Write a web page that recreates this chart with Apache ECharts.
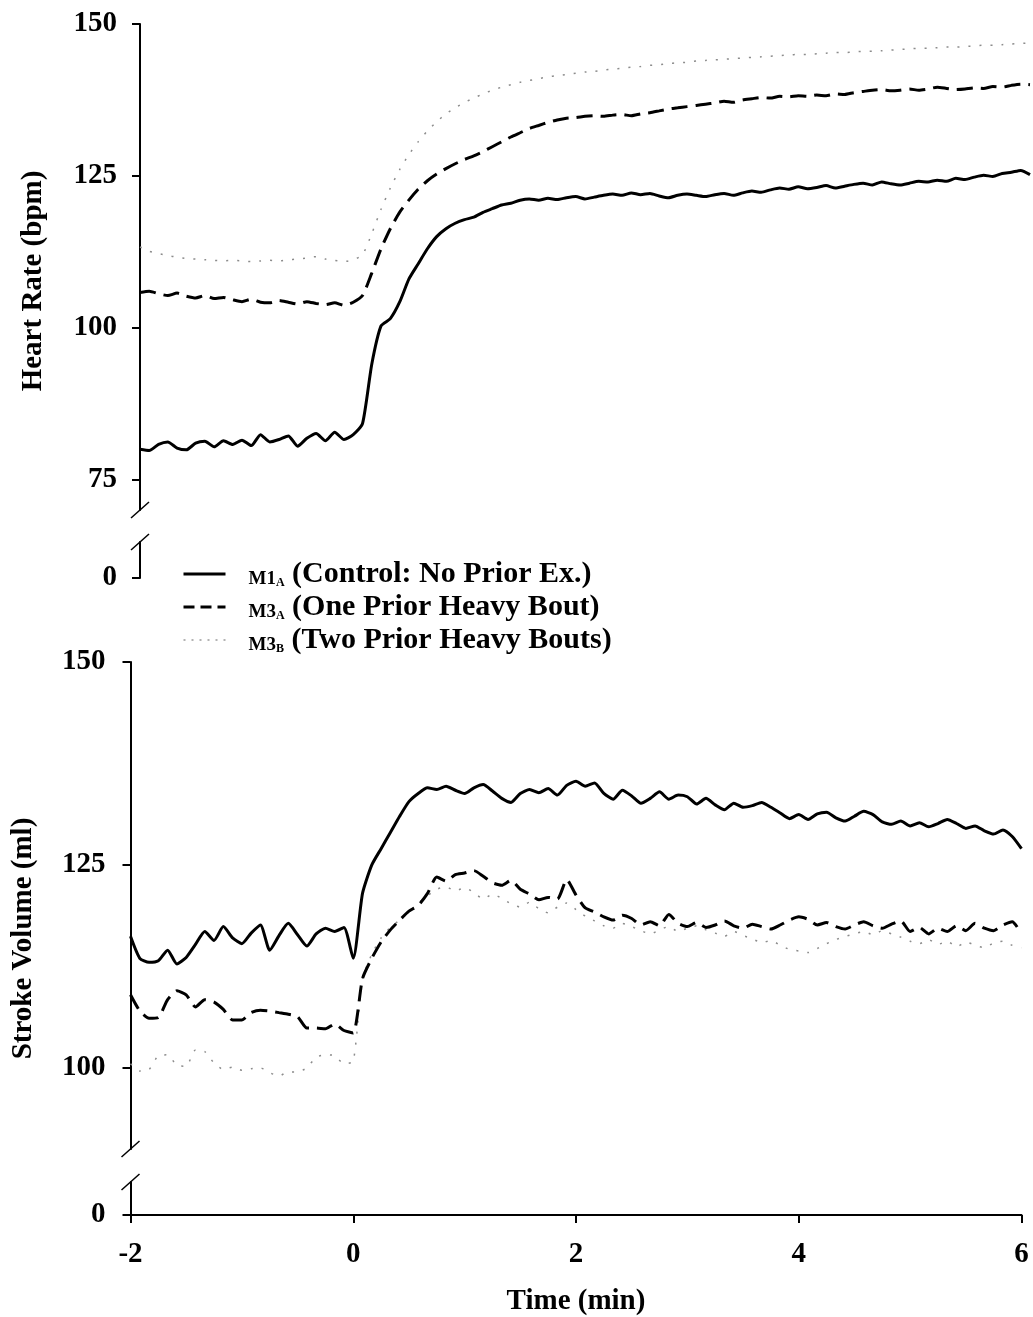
<!DOCTYPE html>
<html>
<head>
<meta charset="utf-8">
<script src="https://cdn.jsdelivr.net/npm/echarts@6/dist/echarts.min.js"></script>
<style>
  html, body { margin: 0; padding: 0; background: #ffffff; }
  #chart { width: 1033px; height: 1317px; }
</style>
</head>
<body>
<div id="chart"></div>
<script>
// Time relative to exercise onset (s), sampled every 5 s
const timeSec = [
  -120, -115, -110, -105, -100, -95, -90, -85, -80, -75, -70, -65, -60, -55, -50, -45, -40, -35, -30, -25, -20, -15, -10, -5, 0,
  5, 10, 15, 20, 25, 30, 35, 40, 45, 50, 55, 60,
  65, 70, 75, 80, 85, 90, 95, 100, 105, 110, 115, 120,
  125, 130, 135, 140, 145, 150, 155, 160, 165, 170, 175, 180,
  185, 190, 195, 200, 205, 210, 215, 220, 225, 230, 235, 240,
  245, 250, 255, 260, 265, 270, 275, 280, 285, 290, 295, 300,
  305, 310, 315, 320, 325, 330, 335, 340, 345, 350, 355, 360
];

// Heart rate (bpm)
const hrControl = [
  80, 79.8, 80.8, 81.2, 80.2, 79.9, 81, 81.3, 80.4, 81.4, 80.8, 81.5, 80.6, 82.4, 81.2, 81.6, 82.2, 80.5, 81.8, 82.6, 81.4, 82.8, 81.6, 82.4, 84.2,
  94, 100.3, 101.5, 104.2, 108, 110.5, 113, 115, 116.3, 117.2, 117.8, 118.2,
  119, 119.6, 120.2, 120.5, 121, 121.2, 121, 121.3, 121.1, 121.4, 121.6, 121.2,
  121.5, 121.8, 122, 121.8, 122.2, 121.9, 122.1, 121.7, 121.4, 121.8, 122, 121.8,
  121.6, 121.9, 122.1, 121.8, 122.2, 122.5, 122.3, 122.7, 123, 122.8, 123.2, 122.9,
  123.1, 123.4, 123, 123.3, 123.6, 123.8, 123.5, 124, 123.7, 123.5, 123.8, 124.1,
  124, 124.3, 124.1, 124.6, 124.4, 124.8, 125.1, 124.9, 125.4, 125.6, 125.9, 125.2
];
const hrOneBout = [
  105.8, 106, 105.6, 105.3, 105.7, 105.2, 104.9, 105.3, 104.8, 105, 104.6, 104.3, 104.7, 104.2, 104.1, 104.5, 104.2, 103.9, 104.3, 104, 103.8, 104.1, 103.7, 104.2, 105.3,
  109, 113, 116.3, 119, 121, 122.8, 124.2, 125.3, 126.2, 127, 127.7, 128.3,
  129, 129.8, 130.6, 131.4, 132.1, 132.8, 133.3, 133.8, 134.2, 134.5, 134.6, 134.8,
  134.9, 134.8, 135, 135.1, 134.9, 135.2, 135.4, 135.7, 136, 136.2, 136.4, 136.6,
  136.8, 137, 137.3, 137.1, 137.5, 137.7, 137.9, 137.8, 138.1, 138, 138.2, 138.1,
  138.3, 138.2, 138.5, 138.4, 138.7, 138.9, 139.1, 139.2, 139, 139.1, 139.3, 139.1,
  139.3, 139.6, 139.4, 139.2, 139.3, 139.5, 139.4, 139.7, 139.6, 139.9, 140.1, 140
];
const hrTwoBouts = [
  113.3, 112.6, 112.2, 111.9, 111.6, 111.4, 111.3, 111.2, 111.1, 111, 111.1, 111, 110.9, 111, 111.1, 111, 111.2, 111.3, 111.5, 111.7, 111.3, 111.1, 110.9, 111.2, 112,
  115.5, 119.5, 123, 126, 128.5, 130.6, 132.4, 133.9, 135.2, 136.2, 137.1, 137.8,
  138.5, 139.1, 139.6, 140, 140.4, 140.7, 141, 141.3, 141.5, 141.7, 141.9, 142.1,
  142.2, 142.4, 142.6, 142.7, 142.9, 143, 143.2, 143.3, 143.5, 143.6, 143.7, 143.9,
  144, 144.1, 144.2, 144.3, 144.4, 144.5, 144.6, 144.7, 144.8, 144.9, 145, 145,
  145.1, 145.2, 145.3, 145.3, 145.4, 145.5, 145.5, 145.6, 145.7, 145.8, 145.9, 146,
  146, 146.1, 146.2, 146.2, 146.3, 146.4, 146.5, 146.5, 146.6, 146.7, 146.8, 146.9
];

// Stroke volume (ml)
const svControl = [
  116.2, 113.5, 113, 113.2, 114.5, 112.8, 113.6, 115.2, 116.8, 115.7, 117.4, 116, 115.3, 116.6, 117.6, 114.5, 116.3, 117.8, 116.4, 115, 116.5, 117.2, 116.8, 117.3, 113.5,
  121.5, 125, 127, 129, 131, 132.8, 133.8, 134.5, 134.3, 134.7, 134.2, 133.8,
  134.5, 134.9, 134.1, 133.2, 132.7, 133.8, 134.3, 133.9, 134.4, 133.6, 134.8, 135.3,
  134.7, 135.1, 133.8, 133.1, 134.2, 133.5, 132.6, 133.2, 134, 133.1, 133.6, 133.4,
  132.5, 133.2, 132.4, 131.8, 132.6, 132.1, 132.3, 132.7, 132.1, 131.4, 130.7, 131.2,
  130.6, 131.3, 131.5, 130.8, 130.4, 131, 131.6, 131.2, 130.3, 130, 130.4, 129.8,
  130.2, 129.7, 130.1, 130.6, 130.1, 129.5, 129.8, 129.2, 128.8, 129.3, 128.5, 127
];
const svOneBout = [
  109, 107, 106.1, 106.2, 108.4, 109.5, 109, 107.5, 108.4, 108.1, 107.2, 105.9, 105.9, 106.8, 107.1, 107, 106.8, 106.6, 106.3, 104.9, 104.9, 104.8, 105.4, 104.6, 104.3,
  111, 113.5, 115.5, 117, 118.2, 119.3, 120, 121.5, 123.5, 123, 123.8, 124,
  124.3, 123.6, 122.8, 122.5, 123.1, 122, 121.4, 120.7, 121, 120.8, 123.2, 121.3,
  119.7, 119.2, 118.6, 118.2, 118.8, 118.4, 117.6, 118, 117.5, 118.9, 117.8, 117.4,
  117.9, 117.3, 117.6, 118.1, 117.5, 117.2, 117.7, 117.4, 117.1, 117.6, 118.2, 118.6,
  118.3, 117.6, 117.9, 117.4, 117.1, 117.6, 118, 117.5, 117.2, 117.7, 118.1, 116.8,
  117.3, 116.5, 117.2, 116.8, 117.5, 116.9, 117.8, 117.2, 116.9, 117.6, 118, 116.5
];
const svTwoBouts = [
  100.5, 99.6, 99.8, 101.5, 101.6, 100.3, 100.2, 102.2, 102, 100.6, 99.8, 100.1, 99.7, 99.9, 100, 99.4, 99, 99.5, 99.5, 100, 101.3, 101.6, 101.5, 100.5, 100.8,
  111, 114, 116, 117.3, 118.2, 119.2, 120.3, 121.2, 122, 122.3, 121.8, 122.2,
  121.6, 120.8, 121.4, 120.9, 120.2, 119.8, 120.4, 119.6, 119.1, 119.8, 120.3, 119.5,
  118.7, 118.1, 117.5, 117.2, 117.8, 117.4, 116.9, 116.5, 117, 117.4, 116.8, 117.2,
  117.5, 117, 116.6, 116.2, 116.8, 116.3, 115.9, 115.4, 115.7, 115.1, 114.6, 114.4,
  114.2, 114.7, 115.3, 115.8, 116.2, 116.5, 116.8, 116.4, 116.9, 116.5, 116.1, 115.6,
  115.3, 115.8, 115.2, 115.6, 114.9, 115.5, 115.1, 114.8, 115.4, 115.6, 115.1, 114.8
];

// Axis ticks
const hrTicks = [75, 100, 125, 150];
const svTicks = [100, 125, 150];
const zeroTick = [0];

// Legend entries: name, subscript, description
const groupNames = ['M1A', 'M3A', 'M3B'];
const groupLabels = {
  M1A: ['M1', 'A', '(Control: No Prior Ex.)'],
  M3A: ['M3', 'A', '(One Prior Heavy Bout)'],
  M3B: ['M3', 'B', '(Two Prior Heavy Bouts)']
};

const FONT = 'Liberation Serif, Times New Roman, serif';
const labelStyle = { color: '#000', fontFamily: FONT, fontWeight: 'bold', fontSize: 29 };

const lineStyles = {
  M1A: { color: '#000', width: 3, type: 'solid' },
  M3A: { color: '#000', width: 3, type: [16, 8] },
  M3B: { color: '#8c8c8c', width: 1.5, type: [2, 9] }
};
const legendLineStyles = {
  M1A: { color: '#000', width: 3, type: 'solid' },
  M3A: { color: '#000', width: 3, type: [11, 6] },
  M3B: { color: '#9a9a9a', width: 1.5, type: [2, 6] }
};

function pairs(values) {
  return timeSec.map((s, i) => [s / 60, values[i]]);
}

const chart = echarts.init(document.getElementById('chart'), null, { renderer: 'canvas' });

function valueY(gridIndex, min, max, ticks, labelMargin) {
  return {
    type: 'value', gridIndex, min, max,
    axisLine: { show: true, onZero: false, lineStyle: { color: '#000', width: 2 } },
    axisTick: { show: true, inside: false, length: 8, customValues: ticks, lineStyle: { color: '#000', width: 2 } },
    axisLabel: Object.assign({ show: true, margin: labelMargin, customValues: ticks }, labelStyle),
    splitLine: { show: false }
  };
}

function hiddenX(gridIndex) {
  return { type: 'value', gridIndex, min: -2, max: 6, show: false };
}

const series = [];
const panels = [
  { axis: 0, values: [hrControl, hrOneBout, hrTwoBouts] },
  { axis: 2, values: [svControl, svOneBout, svTwoBouts] }
];
panels.forEach(p => {
  groupNames.forEach((name, k) => {
    series.push({
      type: 'line', name,
      xAxisIndex: p.axis, yAxisIndex: p.axis,
      data: pairs(p.values[k]),
      symbol: 'none', showSymbol: false,
      smooth: 0.2,
      lineStyle: lineStyles[name],
      itemStyle: { color: lineStyles[name].color },
      emphasis: { disabled: true },
      z: 3 - k
    });
  });
});

chart.setOption({
  animation: false,
  backgroundColor: '#ffffff',
  grid: [
    { left: 140, top: 24, width: 890, height: 486 },
    { left: 140, top: 542, width: 890, height: 36 },
    { left: 130.5, top: 662, width: 891, height: 487 },
    { left: 130.5, top: 1182, width: 891, height: 35.5 }
  ],
  xAxis: [
    hiddenX(0), hiddenX(1), hiddenX(2),
    {
      type: 'value', gridIndex: 3, min: -2, max: 6, interval: 2,
      axisLine: { show: true, onZero: false, lineStyle: { color: '#000', width: 2 } },
      axisTick: { show: true, inside: false, length: 8, lineStyle: { color: '#000', width: 2 } },
      axisLabel: Object.assign({ margin: 25 }, labelStyle),
      splitLine: { show: false },
      name: 'Time (min)', nameLocation: 'middle', nameGap: 72,
      nameTextStyle: labelStyle
    }
  ],
  yAxis: [
    valueY(0, 70, 150, hrTicks, 23),
    valueY(1, 0, 1, zeroTick, 23),
    valueY(2, 90, 150, svTicks, 25),
    valueY(3, 0, 1, zeroTick, 25)
  ],
  legend: {
    orient: 'vertical', left: 182, top: 559, padding: 0,
    itemWidth: 42, itemHeight: 14, itemGap: 3,
    data: groupNames.map(name => ({ name, lineStyle: legendLineStyles[name] })),
    selectedMode: false,
    itemStyle: { opacity: 0 },
    formatter: name => {
      const g = groupLabels[name];
      return '{m|' + g[0] + '}{s|' + g[1] + '}{t| ' + g[2] + '}';
    },
    textStyle: {
      color: '#000', fontFamily: FONT, fontWeight: 'bold',
      rich: {
        m: { fontFamily: FONT, fontWeight: 'bold', fontSize: 19, lineHeight: 25, verticalAlign: 'bottom', padding: [0, 0, 0, 18], color: '#000' },
        s: { fontFamily: FONT, fontWeight: 'bold', fontSize: 12, lineHeight: 12, verticalAlign: 'bottom', color: '#000' },
        t: { fontFamily: FONT, fontWeight: 'bold', fontSize: 30, lineHeight: 30, verticalAlign: 'bottom', color: '#000' }
      }
    }
  },
  series
});

// Axis titles and break marks, placed from the axes' own pixel mapping
const hrLow = chart.convertToPixel({ gridIndex: 0 }, [-2, 70]);
const hrZeroTop = chart.convertToPixel({ gridIndex: 1 }, [-2, 1]);
const hrZero = chart.convertToPixel({ gridIndex: 1 }, [-2, 0]);
const hrTop = chart.convertToPixel({ gridIndex: 0 }, [-2, 150]);
const svLow = chart.convertToPixel({ gridIndex: 2 }, [-2, 90]);
const svZeroTop = chart.convertToPixel({ gridIndex: 3 }, [-2, 1]);
const svZero = chart.convertToPixel({ gridIndex: 3 }, [-2, 0]);
const svTop = chart.convertToPixel({ gridIndex: 2 }, [-2, 150]);

function slash(p) {
  return {
    type: 'line', silent: true,
    shape: { x1: p[0] - 9, y1: p[1] + 8, x2: p[0] + 9, y2: p[1] - 8 },
    style: { stroke: '#000', lineWidth: 1.5 }
  };
}
function yTitle(text, x, yCenter) {
  return {
    type: 'text', silent: true,
    x: x, y: yCenter, rotation: Math.PI / 2,
    style: {
      text, fill: '#000', font: 'bold 29px ' + FONT,
      align: 'center', verticalAlign: 'middle'
    }
  };
}

chart.setOption({
  graphic: [
    slash(hrLow), slash(hrZeroTop), slash(svLow), slash(svZeroTop),
    yTitle('Heart Rate (bpm)', 34, (hrTop[1] + hrZero[1]) / 2 - 20),
    yTitle('Stroke Volume (ml)', 24, (svTop[1] + svZero[1]) / 2)
  ]
});
</script>
</body>
</html>
